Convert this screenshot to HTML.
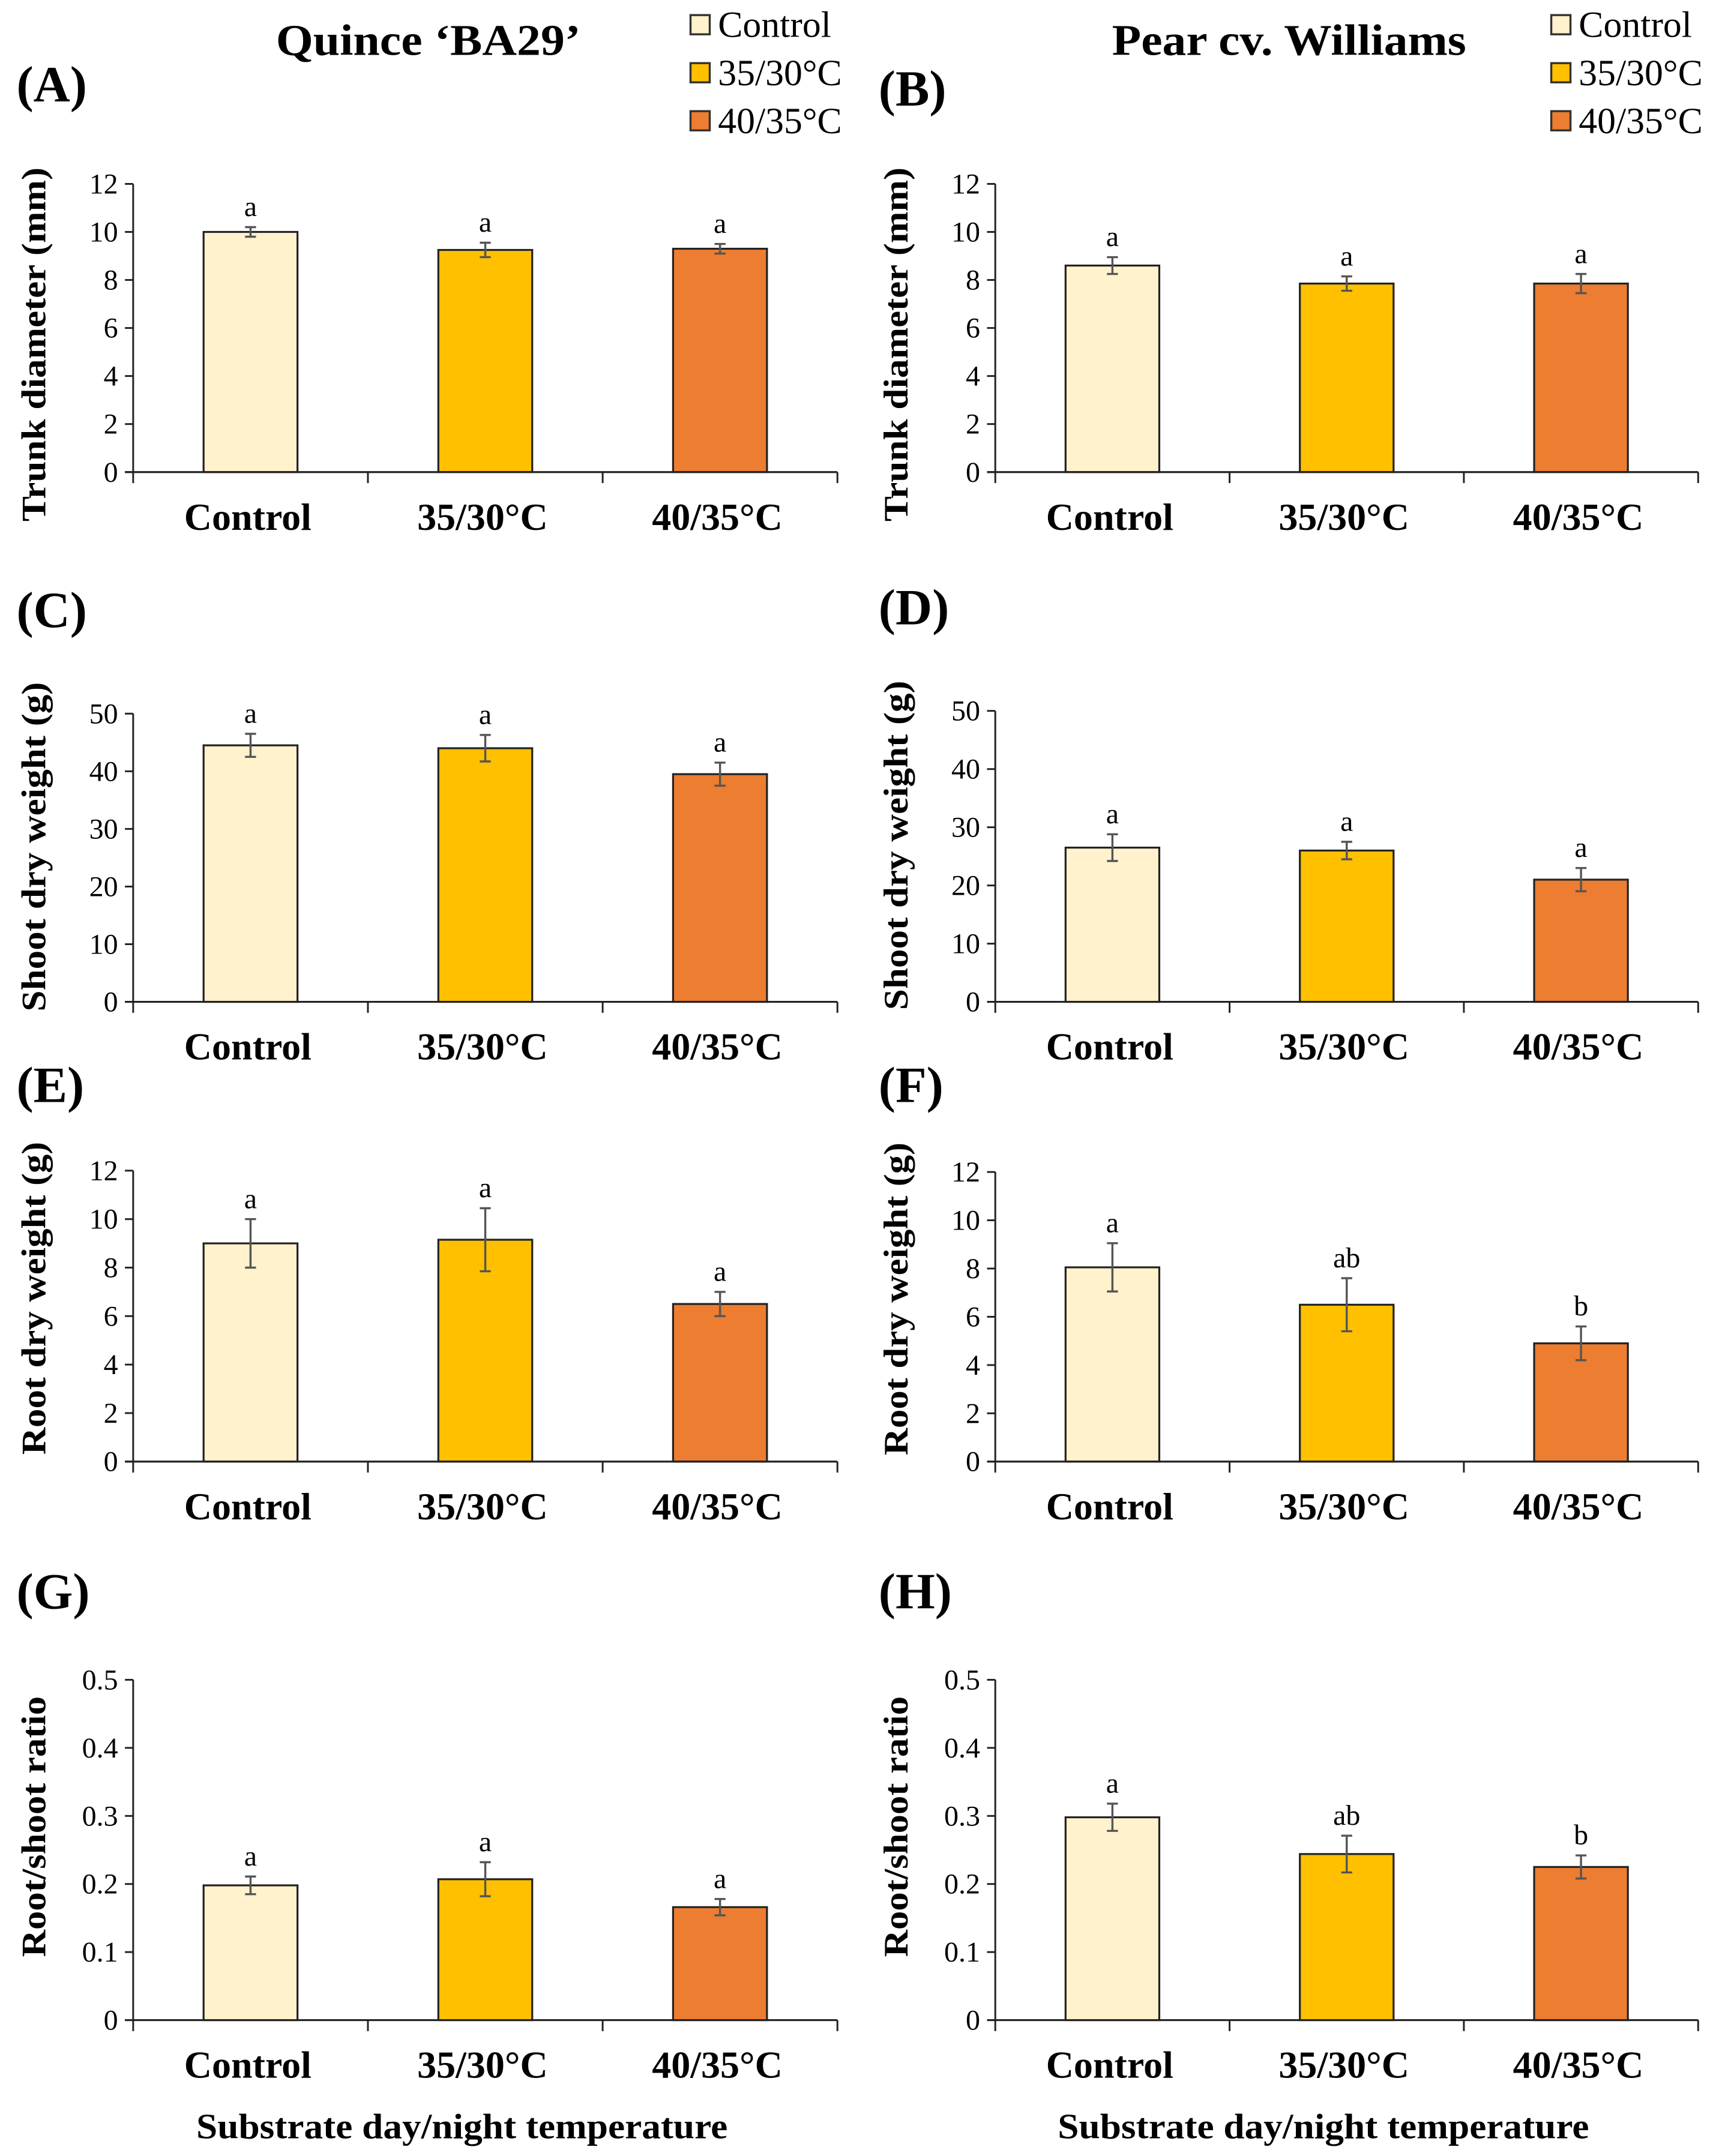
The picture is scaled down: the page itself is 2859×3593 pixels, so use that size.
<!DOCTYPE html>
<html><head><meta charset="utf-8"><style>
html,body{margin:0;padding:0;background:#fff}
svg{display:block}
svg text{font-family:"Liberation Serif","Times New Roman",serif;fill:#000}
</style></head><body>
<svg id="fig" width="2859" height="3593" viewBox="0 0 1250 1571" preserveAspectRatio="none" xmlns="http://www.w3.org/2000/svg" font-family="Liberation Serif, serif">
<rect width="1250" height="1571" fill="#fff"/>
<text x="312" y="40" font-size="32" font-weight="bold" text-anchor="middle" textLength="222" lengthAdjust="spacingAndGlyphs">Quince ‘BA29’</text>
<text x="939" y="40" font-size="32" font-weight="bold" text-anchor="middle" textLength="258" lengthAdjust="spacingAndGlyphs">Pear cv. Williams</text>
<g id="charts"></g>
</svg>
<script>
const categories = ["Control","35/30°C","40/35°C"];
const colors = ["#FFF2CC","#FFC000","#ED7D31"];
const panelLabels = ["(A)","(B)","(C)","(D)","(E)","(F)","(G)","(H)"];
const yTitles = ["Trunk diameter (mm)","Trunk diameter (mm)","Shoot dry weight (g)","Shoot dry weight (g)","Root dry weight (g)","Root dry weight (g)","Root/shoot ratio","Root/shoot ratio"];
const yTitleLens = [258,258,240,240,228,228,190,190];
const yTitleShift = [4,4,-16,-16,-21,-21,-25,-25];
const yTicksTrunk = [0,2,4,6,8,10,12];
const yTicksShoot = [0,10,20,30,40,50];
const yTicksRoot = [0,2,4,6,8,10,12];
const yTicksRatio = [0,0.1,0.2,0.3,0.4,0.5];
const valA = [10.0,9.25,9.3];   const errA = [0.2,0.3,0.2];   const letA = ["a","a","a"];
const valB = [8.6,7.85,7.85];   const errB = [0.35,0.3,0.4];  const letB = ["a","a","a"];
const valC = [44.5,44.0,39.5];  const errC = [2.0,2.3,2.0];   const letC = ["a","a","a"];
const valD = [26.5,26.0,21.0];  const errD = [2.3,1.5,2.0];   const letD = ["a","a","a"];
const valE = [9.0,9.15,6.5];    const errE = [1.0,1.3,0.5];   const letE = ["a","a","a"];
const valF = [8.05,6.5,4.9];    const errF = [1.0,1.1,0.7];   const letF = ["a","ab","b"];
const valG = [0.198,0.207,0.166]; const errG = [0.013,0.025,0.012]; const letG = ["a","a","a"];
const valH = [0.298,0.244,0.225]; const errH = [0.02,0.027,0.017]; const letH = ["a","ab","b"];

const NS="http://www.w3.org/2000/svg";
const root=document.getElementById('charts');
function mk(tag,attrs,parent,txt){const e=document.createElementNS(NS,tag);for(const k in attrs)e.setAttribute(k,attrs[k]);if(txt!==undefined)e.textContent=txt;(parent||root).appendChild(e);return e;}

const layouts=[
 {x0:97,x1:610,top:134,bot:344,lx:12,ly:74},
 {x0:725,x1:1237,top:134,bot:344,lx:640,ly:77},
 {x0:97,x1:610,top:520,bot:730,lx:12,ly:457},
 {x0:725,x1:1237,top:518,bot:730,lx:640,ly:455},
 {x0:97,x1:610,top:853,bot:1065,lx:12,ly:803},
 {x0:725,x1:1237,top:854,bot:1065,lx:640,ly:803},
 {x0:97,x1:610,top:1224,bot:1472,lx:12,ly:1172},
 {x0:725,x1:1237,top:1224,bot:1472,lx:640,ly:1172}
];
const ticksets=[yTicksTrunk,yTicksTrunk,yTicksShoot,yTicksShoot,yTicksRoot,yTicksRoot,yTicksRatio,yTicksRatio];
const vals=[valA,valB,valC,valD,valE,valF,valG,valH];
const errs=[errA,errB,errC,errD,errE,errF,errG,errH];
const lets=[letA,letB,letC,letD,letE,letF,letG,letH];

layouts.forEach((L,p)=>{
  const g=mk('g',{});
  
  
  const ticks=ticksets[p];const ymax=ticks[ticks.length-1];
  const y=v=>L.bot-(v/ymax)*(L.bot-L.top);
  const cw=(L.x1-L.x0)/categories.length;
  const xc=i=>L.x0+cw*(i+0.5);
  const pl=mk('text',{x:L.lx,y:L.ly,'font-size':37,'font-weight':'bold'},g,panelLabels[p]);
  
  
  const ya=mk('line',{x1:L.x0,y1:L.top,x2:L.x0,y2:L.bot,stroke:'#222','stroke-width':1.3},g);
  
  
  ticks.forEach(t=>{
    mk('line',{x1:L.x0-6,y1:y(t),x2:L.x0,y2:y(t),stroke:'#222','stroke-width':1.3},g);
    const tl=mk('text',{x:L.x0-11,y:y(t)+7,'font-size':21,'text-anchor':'end',fill:'#222','font-family':'Liberation Serif, serif'},g,String(t));
    
    
  });
  const ymid=(L.top+L.bot)/2+yTitleShift[p];
  const yt=mk('text',{x:0,y:0,'font-size':25,'font-weight':'bold','text-anchor':'middle',textLength:yTitleLens[p],lengthAdjust:'spacingAndGlyphs',transform:`translate(${L.x0-64},${ymid+8}) rotate(-90)`},g,yTitles[p]);
  
  
  vals[p].forEach((v,i)=>{
    const bw=cw*0.4;
    const b=mk('rect',{x:xc(i)-bw/2,y:y(v),width:bw,height:L.bot-y(v),fill:colors[i],stroke:'#222','stroke-width':1.4},g);
    
    
    const e=errs[p][i];
    const eg=mk('g',{stroke:'#555','stroke-width':1.5},g);
    
    
    mk('line',{x1:xc(i),y1:y(v+e),x2:xc(i),y2:y(v-e)},eg);
    mk('line',{x1:xc(i)-4,y1:y(v+e),x2:xc(i)+4,y2:y(v+e)},eg);
    mk('line',{x1:xc(i)-4,y1:y(v-e),x2:xc(i)+4,y2:y(v-e)},eg);
    const lt=mk('text',{x:xc(i),y:y(v+e)-8,'font-size':21,'text-anchor':'middle'},g,lets[p][i]);
    
    
    const cl=mk('text',{x:xc(i)-2,y:L.bot+42,'font-size':28,'font-weight':'bold','text-anchor':'middle'},g,categories[i]);
    
    
  });
  const xa=mk('line',{x1:L.x0-6,y1:L.bot,x2:L.x1,y2:L.bot,stroke:'#222','stroke-width':1.4},g);
  
  
  for(let k=0;k<=categories.length;k++){
    mk('line',{x1:L.x0+cw*k,y1:L.bot,x2:L.x0+cw*k,y2:L.bot+8,stroke:'#222','stroke-width':1.3},g);
  }
  if(p>=6){
    const xt=mk('text',{x:(L.x0+L.x1)/2-17,y:1558,'font-size':26,'font-weight':'bold','text-anchor':'middle',textLength:387,lengthAdjust:'spacingAndGlyphs'},g,'Substrate day/night temperature');
    
    
  }
});
[503,1130].forEach((lx,j)=>{
  const lg=mk('g',{});
  
  
  categories.forEach((c,i)=>{
    const yy=18+35*i;
    const e=mk('g',{},lg);
    
    
    mk('rect',{x:lx,y:yy-7,width:14,height:14,fill:colors[i],stroke:'#333','stroke-width':1.5},e);
    mk('text',{x:lx+20,y:yy+9,'font-size':27},e,c);
  });
});
</script>
</body></html>
